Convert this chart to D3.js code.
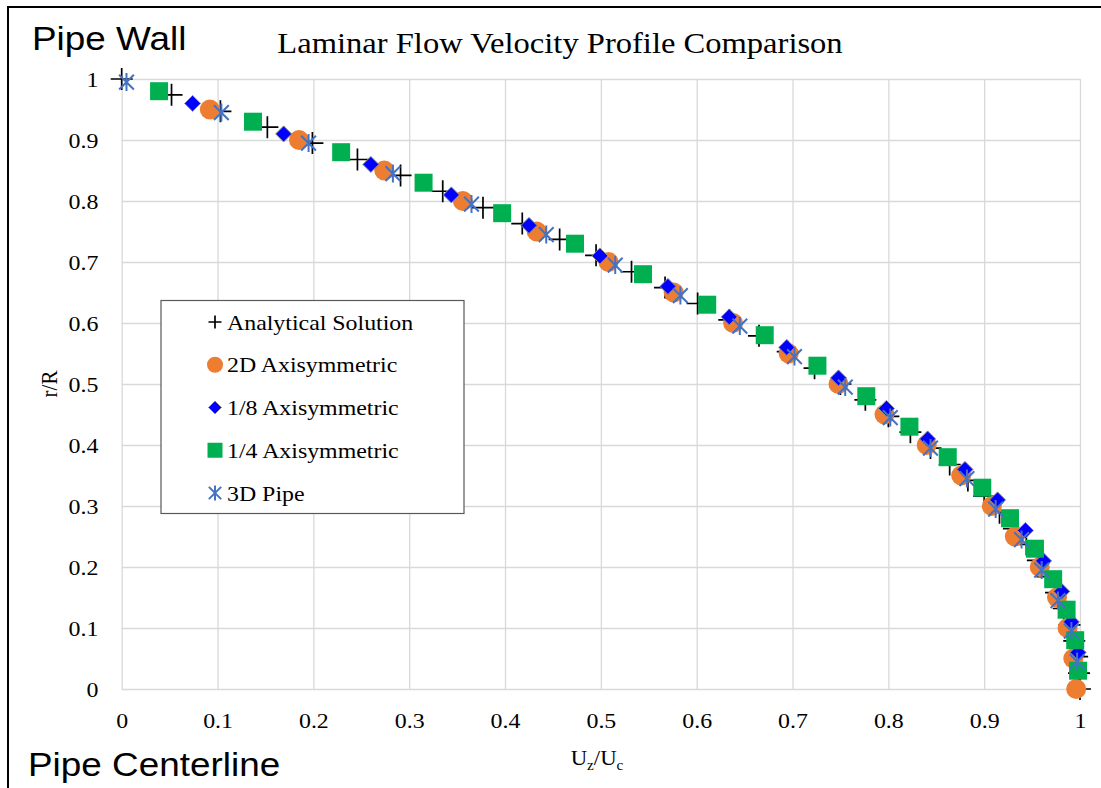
<!DOCTYPE html>
<html>
<head>
<meta charset="utf-8">
<script src="https://cdn.jsdelivr.net/npm/d3@7"></script>
<style>
  body { margin: 0; background: #fff; }
  svg { display: block; }
</style>
</head>
<body>
<svg id="chart" width="1101" height="788"></svg>
<script>
// tick values
const xTicks = [0, 0.1, 0.2, 0.3, 0.4, 0.5, 0.6, 0.7, 0.8, 0.9, 1];
const yTicks = [0, 0.1, 0.2, 0.3, 0.4, 0.5, 0.6, 0.7, 0.8, 0.9, 1];

const seriesNames = ['Analytical Solution', '2D Axisymmetric', '1/8 Axisymmetric', '1/4 Axisymmetric', '3D Pipe'];

// Analytical Solution (U/Uc, r/R)
const analyticalU = [0.000, 0.052, 0.103, 0.152, 0.199, 0.246, 0.291, 0.335, 0.377, 0.418,
  0.457, 0.495, 0.532, 0.567, 0.601, 0.634, 0.665, 0.695, 0.723, 0.750,
  0.776, 0.800, 0.823, 0.844, 0.864, 0.883, 0.900, 0.916, 0.931, 0.944,
  0.956, 0.966, 0.975, 0.983, 0.989, 0.994, 0.997, 0.999, 1.000];
const analyticalR = [1.000, 0.974, 0.947, 0.921, 0.895, 0.868, 0.842, 0.816, 0.789, 0.763,
  0.737, 0.711, 0.684, 0.658, 0.632, 0.605, 0.579, 0.553, 0.526, 0.500,
  0.474, 0.447, 0.421, 0.395, 0.368, 0.342, 0.316, 0.289, 0.263, 0.237,
  0.211, 0.184, 0.158, 0.132, 0.105, 0.079, 0.053, 0.026, 0.000];

// 2D Axisymmetric
const axi2dU = [0.092, 0.185, 0.274, 0.356, 0.433, 0.508, 0.576, 0.638, 0.696, 0.748,
  0.796, 0.840, 0.876, 0.908, 0.932, 0.958, 0.976, 0.987, 0.993, 0.996];
const axi2dR = [0.95, 0.90, 0.85, 0.80, 0.75, 0.70, 0.65, 0.60, 0.55, 0.50,
  0.45, 0.40, 0.35, 0.30, 0.25, 0.20, 0.15, 0.10, 0.05, 0.00];

// 1/8 Axisymmetric
const eighthU = [0.074, 0.169, 0.260, 0.344, 0.425, 0.499, 0.570, 0.634, 0.694, 0.748,
  0.798, 0.841, 0.880, 0.914, 0.943, 0.962, 0.981, 0.991, 0.998];
const eighthR = [0.96, 0.91, 0.86, 0.81, 0.76, 0.71, 0.66, 0.61, 0.56, 0.51,
  0.46, 0.41, 0.36, 0.31, 0.26, 0.21, 0.16, 0.11, 0.06];

// 1/4 Axisymmetric
const quarterU = [0.039, 0.137, 0.229, 0.315, 0.397, 0.473, 0.544, 0.611, 0.671, 0.726,
  0.777, 0.822, 0.862, 0.898, 0.927, 0.953, 0.972, 0.986, 0.995, 0.998];
const quarterR = [0.98, 0.93, 0.88, 0.83, 0.78, 0.73, 0.68, 0.63, 0.58, 0.53,
  0.48, 0.43, 0.38, 0.33, 0.28, 0.23, 0.18, 0.13, 0.08, 0.03];

// 3D Pipe
const pipe3dU = [0.005, 0.104, 0.195, 0.283, 0.365, 0.443, 0.515, 0.583, 0.645, 0.702,
  0.755, 0.802, 0.844, 0.882, 0.912, 0.939, 0.960, 0.977, 0.991, 0.997];
const pipe3dR = [0.995, 0.945, 0.895, 0.845, 0.795, 0.745, 0.695, 0.645, 0.595, 0.545,
  0.495, 0.445, 0.395, 0.345, 0.295, 0.245, 0.195, 0.145, 0.095, 0.045];

const SERIF = '"Liberation Serif", "Times New Roman", serif';
const SANS = '"Liberation Sans", Arial, sans-serif';
const SX = 1.085; // picture is slightly wider than tall

const svg = d3.select('#chart');
const x = d3.scaleLinear().domain([0, 1]).range([121.7, 1080]);
const y = d3.scaleLinear().domain([0, 1]).range([689, 79]);

// marker shapes (size = full width)
const plusSym = { draw(c, s) { const r = s / 2; c.moveTo(-r, 0); c.lineTo(r, 0); c.moveTo(0, -r); c.lineTo(0, r); } };
const circleSym = { draw(c, s) { const r = s / 2; c.moveTo(r, 0); c.arc(0, 0, r, 0, 2 * Math.PI); } };
const diamondSym = { draw(c, s) { const r = s / 2; c.moveTo(0, -r); c.lineTo(r, 0); c.lineTo(0, r); c.lineTo(-r, 0); c.closePath(); } };
const squareSym = { draw(c, s) { c.rect(-s / 2, -s / 2, s, s); } };
const starSym = { draw(c, s) {
  const r = s / 2, d = r * 0.82;
  c.moveTo(0, -r); c.lineTo(0, r);
  c.moveTo(-d, -d); c.lineTo(d, d);
  c.moveTo(-d, d); c.lineTo(d, -d);
} };

const series = [
  { name: seriesNames[0], u: analyticalU, r: analyticalR, type: plusSym, size: 22, lsize: 13, fill: 'none', stroke: '#000', sw: 1.7 },
  { name: seriesNames[1], u: axi2dU, r: axi2dR, type: circleSym, size: 20, lsize: 16, fill: '#ED7D31', stroke: 'none', sw: 0 },
  { name: seriesNames[2], u: eighthU, r: eighthR, type: diamondSym, size: 16, lsize: 13, fill: '#0000FF', stroke: '#8c8c8c', sw: 1 },
  { name: seriesNames[3], u: quarterU, r: quarterR, type: squareSym, size: 18, lsize: 15, fill: '#00B050', stroke: 'none', sw: 0 },
  { name: seriesNames[4], u: pipe3dU, r: pipe3dR, type: starSym, size: 18, lsize: 15, fill: 'none', stroke: '#4472C4', sw: 2 },
];

// outer frame
svg.append('rect')
  .attr('x', 8).attr('y', 7).attr('width', 1120).attr('height', 820)
  .attr('fill', 'none').attr('stroke', '#000').attr('stroke-width', 2);

// gridlines
svg.append('g')
  .attr('transform', `translate(0,${y(0)})`)
  .call(d3.axisBottom(x).tickValues(xTicks).tickSize(-(y(0) - y(1))).tickFormat(''))
  .call(g => g.select('.domain').remove())
  .call(g => g.selectAll('line').attr('stroke', '#d9d9d9').attr('stroke-width', 1.3));
svg.append('g')
  .attr('transform', `translate(${x(0)},0)`)
  .call(d3.axisLeft(y).tickValues(yTicks).tickSize(-(x(1) - x(0))).tickFormat(''))
  .call(g => g.select('.domain').remove())
  .call(g => g.selectAll('line').attr('stroke', '#d9d9d9').attr('stroke-width', 1.3));

// tick labels
svg.append('g')
  .attr('transform', `translate(0,${y(0)})`)
  .call(d3.axisBottom(x).tickValues(xTicks).tickSize(0).tickPadding(23).tickFormat(d => String(d)))
  .call(g => g.select('.domain').remove())
  .call(g => g.selectAll('text')
    .attr('font-family', SERIF).attr('font-size', 22).attr('fill', '#000')
    .attr('transform', `scale(${SX},1)`));
svg.append('g')
  .attr('transform', `translate(${x(0)},0)`)
  .call(d3.axisLeft(y).tickValues(yTicks).tickSize(0).tickPadding(21.5).tickFormat(d => String(d)))
  .call(g => g.select('.domain').remove())
  .call(g => g.selectAll('text')
    .attr('font-family', SERIF).attr('font-size', 22).attr('fill', '#000')
    .attr('transform', `scale(${SX},1)`));

// markers
series.forEach(s => {
  const sym = d3.symbol().type(s.type).size(s.size);
  svg.append('g')
    .selectAll('path')
    .data(s.u.map((u, i) => [u, s.r[i]]))
    .join('path')
    .attr('transform', d => `translate(${x(d[0])},${y(d[1])})`)
    .attr('d', sym)
    .attr('fill', s.fill)
    .attr('stroke', s.stroke)
    .attr('stroke-width', s.sw);
});

// titles
svg.append('text')
  .attr('transform', `translate(560,53) scale(${SX},1)`)
  .attr('text-anchor', 'middle')
  .attr('font-family', SERIF).attr('font-size', 30)
  .text('Laminar Flow Velocity Profile Comparison');

svg.append('text')
  .attr('transform', `translate(32,50) scale(${SX},1)`)
  .attr('font-family', SANS).attr('font-size', 34)
  .text('Pipe Wall');

svg.append('text')
  .attr('transform', `translate(28,776) scale(${SX},1)`)
  .attr('font-family', SANS).attr('font-size', 34)
  .text('Pipe Centerline');

svg.append('text')
  .attr('transform', `translate(57,384) scale(${SX},1) rotate(-90)`)
  .attr('text-anchor', 'middle')
  .attr('font-family', SERIF).attr('font-size', 21)
  .text('r/R');

const xTitle = svg.append('text')
  .attr('transform', `translate(597,765) scale(${SX},1)`)
  .attr('text-anchor', 'middle')
  .attr('font-family', SERIF).attr('font-size', 21);
xTitle.append('tspan').text('U');
xTitle.append('tspan').attr('font-size', 14).attr('dy', 5).text('z');
xTitle.append('tspan').attr('dy', -5).text('/U');
xTitle.append('tspan').attr('font-size', 14).attr('dy', 5).text('c');

// legend
const legend = svg.append('g');
legend.append('rect')
  .attr('x', 161).attr('y', 300.5).attr('width', 303).attr('height', 213)
  .attr('fill', '#fff').attr('stroke', '#595959').attr('stroke-width', 1.2);
const rowY = d3.scalePoint().domain(seriesNames).range([322, 493]);
series.forEach(s => {
  const cy = rowY(s.name);
  legend.append('path')
    .attr('transform', `translate(215,${cy})`)
    .attr('d', d3.symbol().type(s.type).size(s.lsize)())
    .attr('fill', s.fill).attr('stroke', s.stroke).attr('stroke-width', s.sw);
  legend.append('text')
    .attr('transform', `translate(227,${cy + 7.5}) scale(${SX},1)`)
    .attr('font-family', SERIF).attr('font-size', 22)
    .text(s.name);
});
</script>
</body>
</html>
